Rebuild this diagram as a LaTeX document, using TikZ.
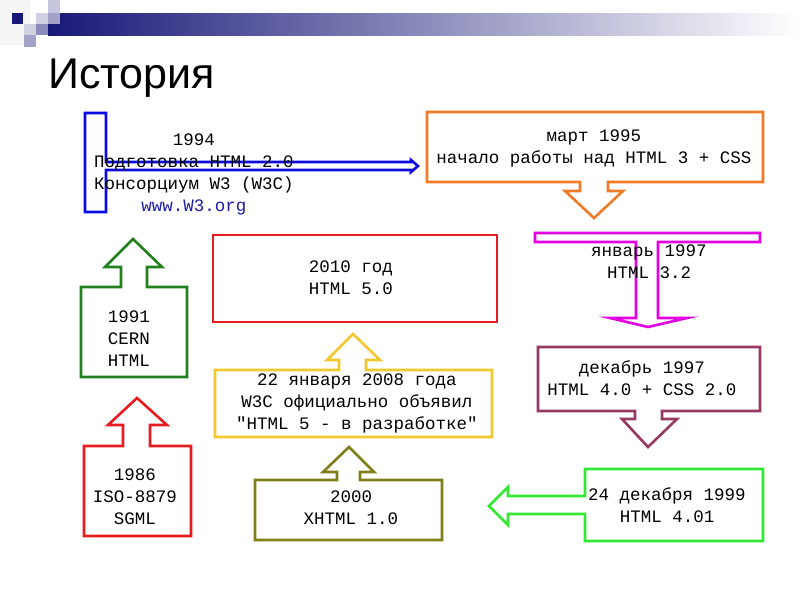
\documentclass[tikz,border=0pt]{standalone}
\usepackage{fontspec}
\setmainfont{Liberation Sans}
\newfontfamily\courfont{Liberation Mono}
\usetikzlibrary{positioning}

\definecolor{navy}{RGB}{24,24,120}
\definecolor{boxblue}{RGB}{10,10,225}
\definecolor{linkblue}{RGB}{30,30,170}
\definecolor{boxorange}{RGB}{240,122,38}
\definecolor{boxmagenta}{RGB}{228,0,228}
\definecolor{boxred}{RGB}{230,28,32}
\definecolor{boxgreen}{RGB}{34,128,30}
\definecolor{boxyellow}{RGB}{242,200,48}
\definecolor{boxolive}{RGB}{128,128,26}
\definecolor{boxlime}{RGB}{50,232,50}
\definecolor{boxplum}{RGB}{150,58,100}

\tikzset{
  callout/.style={line width=2.6pt, line join=miter},
  label/.style={inner sep=0pt, align=center, font=\courfont\fontsize{17.5}{22}\selectfont}
}

\begin{document}
\begin{tikzpicture}[x=1pt, y=-1pt]
    \useasboundingbox[fill=white] (0,0) rectangle (800,600);
    \shade[left color=navy, right color=white] (48,13) rectangle (800,35);
    \fill[black!4] (0,0) rectangle (30,45);
    \fill[navy] (12,13) rectangle (23,24);
    \fill[navy!20] (36,13) rectangle (48,24);
    \fill[navy!25] (48,0) rectangle (60,13);
    \fill[navy!40] (48,13) rectangle (60,24);
    \fill[navy!20] (24,24) rectangle (36,35);
    \fill[navy!50] (36,24) rectangle (48,35);
    \fill[navy!40] (24,35) rectangle (36,47);
    \node[anchor=base west, inner sep=0pt, font=\fontsize{43}{50}\selectfont] (title) at (48,88) {История};

    \draw[callout, boxblue] (85,113) -- (106,113) -- (106,162) -- (411,162) -- (411,160) -- (418,166) -- (411,172) -- (411,170) -- (106,170) -- (106,212) -- (85,212) -- cycle;
    \draw[callout, boxorange] (427,112) -- (763,112) -- (763,182) -- (608,182) -- (608,191) -- (623,191) -- (594,218) -- (565,191) -- (580,191) -- (580,182) -- (427,182) -- cycle;
    \draw[callout, boxmagenta] (535,233) -- (760,233) -- (760,242) -- (658,242) -- (658,318) -- (687,318) -- (648,327) -- (610,318) -- (636,318) -- (636,242) -- (535,242) -- cycle;
    \draw[callout, boxred] (213,235) rectangle (497,322);
    \draw[callout, boxgreen] (81,287) -- (121,287) -- (121,267) -- (105,267) -- (133,239) -- (162,267) -- (147,267) -- (147,287) -- (187,287) -- (187,377) -- (81,377) -- cycle;
    \draw[callout, boxyellow] (215,370) -- (339,370) -- (339,360) -- (327,360) -- (353,334) -- (380,360) -- (366,360) -- (366,370) -- (492,370) -- (492,437) -- (215,437) -- cycle;
    \draw[callout, boxred] (84,446) -- (123,446) -- (123,425) -- (108,425) -- (137,398) -- (167,425) -- (150,425) -- (150,446) -- (191,446) -- (191,536) -- (84,536) -- cycle;
    \draw[callout, boxolive] (255,480) -- (337,480) -- (337,472) -- (323,472) -- (349,447) -- (374,472) -- (360,472) -- (360,480) -- (442,480) -- (442,540) -- (255,540) -- cycle;
    \draw[callout, boxplum] (538,347) -- (760,347) -- (760,411) -- (662,411) -- (662,419) -- (677,419) -- (648,447) -- (622,419) -- (635,419) -- (635,411) -- (538,411) -- cycle;
    \draw[callout, boxlime] (585,469) -- (763,469) -- (763,541) -- (585,541) -- (585,514) -- (508,514) -- (508,525) -- (489,506) -- (508,487) -- (508,496) -- (585,496) -- cycle;

    \node[label] (y1994) at (194,174) {1994\\Подготовка HTML 2.0\\Консорциум W3 (W3C)\\\textcolor{linkblue}{www.W3.org}};
    \node[label] (y1995) at (594,148) {март 1995\\начало работы над HTML 3 + CSS};
    \node[label] (y1997a) at (649,262) {январь 1997\\HTML 3.2};
    \node[label] (y2010) at (351,278) {2010 год\\HTML 5.0};
    \node[label] (y1991) at (129,339) {1991\\CERN\\HTML};
    \node[label] (y2008) at (357,403) {22 января 2008 года\\W3C официально объявил\\"HTML 5 - в разработке"};
    \node[label] (y1997b) at (642,378) {декабрь 1997\\HTML 4.0 + CSS 2.0};
    \node[label] (y1986) at (135,497) {1986\\ISO-8879\\SGML};
    \node[label] (y2000) at (351,508) {2000\\XHTML 1.0};
    \node[label] (y1999) at (667,505) {24 декабря 1999\\HTML 4.01};
\end{tikzpicture}
\end{document}
